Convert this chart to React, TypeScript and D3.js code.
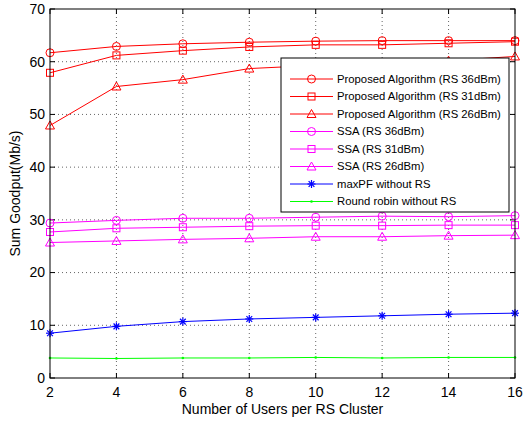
import React from "react";
import * as d3 from "d3";

const xValues = [2, 4, 6, 8, 10, 12, 14, 16];
const yTicks = [0, 10, 20, 30, 40, 50, 60, 70];

const proposed36 = [61.7, 62.9, 63.4, 63.7, 63.9, 64.0, 64.0, 64.0];
const proposed31 = [57.9, 61.2, 62.1, 62.8, 63.2, 63.2, 63.5, 63.8];
const proposed26 = [47.9, 55.3, 56.6, 58.7, 59.3, 59.8, 60.2, 61.0];
const ssa36 = [29.4, 29.9, 30.3, 30.3, 30.5, 30.7, 30.6, 30.8];
const ssa31 = [27.7, 28.4, 28.6, 28.8, 28.9, 28.9, 29.0, 29.0];
const ssa26 = [25.7, 26.0, 26.3, 26.5, 26.8, 26.8, 27.0, 27.1];
const maxPF = [8.5, 9.8, 10.7, 11.2, 11.5, 11.8, 12.1, 12.3];
const roundRobin = [3.8, 3.7, 3.8, 3.8, 3.9, 3.8, 3.9, 3.9];

const seriesNames = [
  "Proposed Algorithm (RS 36dBm)",
  "Proposed Algorithm (RS 31dBm)",
  "Proposed Algorithm (RS 26dBm)",
  "SSA (RS 36dBm)",
  "SSA (RS 31dBm)",
  "SSA (RS 26dBm)",
  "maxPF without RS",
  "Round robin without RS",
];
const seriesData = [proposed36, proposed31, proposed26, ssa36, ssa31, ssa26, maxPF, roundRobin];
const seriesColors = ["#ff0000", "#ff0000", "#ff0000", "#ff00ff", "#ff00ff", "#ff00ff", "#0000ff", "#00ff00"];
const seriesMarkers = ["circle", "square", "triangle", "circle", "square", "triangle", "star", "dot"];

const W = 527;
const H = 421;
const left = 50;
const right = 515;
const top = 9;
const bottom = 378;

const x = d3.scaleLinear().domain([2, 16]).range([left, right]);
const y = d3.scaleLinear().domain([0, 70]).range([bottom, top]);

function Marker({ type, cx, cy, color }: { type: string; cx: number; cy: number; color: string }) {
  const sw = 1;
  if (type === "circle") return <circle cx={cx} cy={cy} r={4} fill="none" stroke={color} strokeWidth={sw} />;
  if (type === "square") return <rect x={cx - 3.5} y={cy - 3.5} width={7} height={7} fill="none" stroke={color} strokeWidth={sw} />;
  if (type === "triangle") {
    const p = `${cx},${cy - 4.5} ${cx - 4.5},${cy + 3.5} ${cx + 4.5},${cy + 3.5}`;
    return <polygon points={p} fill="none" stroke={color} strokeWidth={sw} />;
  }
  if (type === "star") {
    const r = 4;
    const d = r * 0.72;
    return (
      <g stroke={color} strokeWidth={1.2}>
        <line x1={cx} y1={cy - r} x2={cx} y2={cy + r} />
        <line x1={cx - r} y1={cy} x2={cx + r} y2={cy} />
        <line x1={cx - d} y1={cy - d} x2={cx + d} y2={cy + d} />
        <line x1={cx - d} y1={cy + d} x2={cx + d} y2={cy - d} />
      </g>
    );
  }
  return <circle cx={cx} cy={cy} r={1.3} fill={color} />;
}

export default function App() {
  const line = d3
    .line<number>()
    .x((_, i) => x(xValues[i]))
    .y((v) => y(v));
  const font = "'Liberation Sans', Arial, Helvetica, sans-serif";
  const legX = 281;
  const legY = 58;
  const legW = 228;
  const legH = 154;
  const rowY0 = 79;
  const rowStep = 17.5;
  return (
    <svg width={W} height={H} style={{ position: "absolute", left: 0, top: 0, background: "#fff" }} fontFamily={font}>
      <rect x={0} y={0} width={W} height={H} fill="#fff" />
      {/* grid */}
      <g stroke="#666" strokeWidth={1} strokeDasharray="1,3">
        {xValues.slice(1, -1).map((v) => (
          <line key={"gx" + v} x1={x(v)} x2={x(v)} y1={top} y2={bottom} />
        ))}
        {yTicks.slice(1, -1).map((v) => (
          <line key={"gy" + v} x1={left} x2={right} y1={y(v)} y2={y(v)} />
        ))}
      </g>
      {/* ticks */}
      <g stroke="#000" strokeWidth={1}>
        {xValues.map((v) => (
          <g key={"tx" + v}>
            <line x1={x(v)} x2={x(v)} y1={bottom} y2={bottom - 5} />
            <line x1={x(v)} x2={x(v)} y1={top} y2={top + 5} />
          </g>
        ))}
        {yTicks.map((v) => (
          <g key={"ty" + v}>
            <line x1={left} x2={left + 5} y1={y(v)} y2={y(v)} />
            <line x1={right} x2={right - 5} y1={y(v)} y2={y(v)} />
          </g>
        ))}
      </g>
      {/* series */}
      {seriesData.map((data, si) => (
        <g key={"s" + si}>
          <path d={line(data) || ""} fill="none" stroke={seriesColors[si]} strokeWidth={1} />
          {data.map((v, i) => (
            <Marker key={i} type={seriesMarkers[si]} cx={x(xValues[i])} cy={y(v)} color={seriesColors[si]} />
          ))}
        </g>
      ))}
      {/* frame */}
      <rect x={left} y={top} width={right - left} height={bottom - top} fill="none" stroke="#000" strokeWidth={1} />
      {/* tick labels */}
      <g fontSize={14} fill="#000">
        {xValues.map((v) => (
          <text key={"lx" + v} x={x(v)} y={397} textAnchor="middle">
            {v}
          </text>
        ))}
        {yTicks.map((v) => (
          <text key={"ly" + v} x={45} y={y(v)} dy="0.35em" textAnchor="end">
            {v}
          </text>
        ))}
      </g>
      <text x={(left + right) / 2} y={414} textAnchor="middle" fontSize={14}>
        Number of Users per RS Cluster
      </text>
      <text transform={`translate(20,${(top + bottom) / 2}) rotate(-90)`} textAnchor="middle" fontSize={14}>
        Sum Goodput(Mb/s)
      </text>
      {/* legend */}
      <rect x={legX} y={legY} width={legW} height={legH} fill="#fff" stroke="#000" strokeWidth={1} />
      {seriesNames.map((name, i) => {
        const ry = rowY0 + i * rowStep;
        return (
          <g key={"lg" + i}>
            <line x1={290} x2={333} y1={ry} y2={ry} stroke={seriesColors[i]} strokeWidth={1} />
            <Marker type={seriesMarkers[i]} cx={311.5} cy={ry} color={seriesColors[i]} />
            <text x={337} y={ry} dy="0.35em" fontSize={11.3}>
              {name}
            </text>
          </g>
        );
      })}
    </svg>
  );
}
